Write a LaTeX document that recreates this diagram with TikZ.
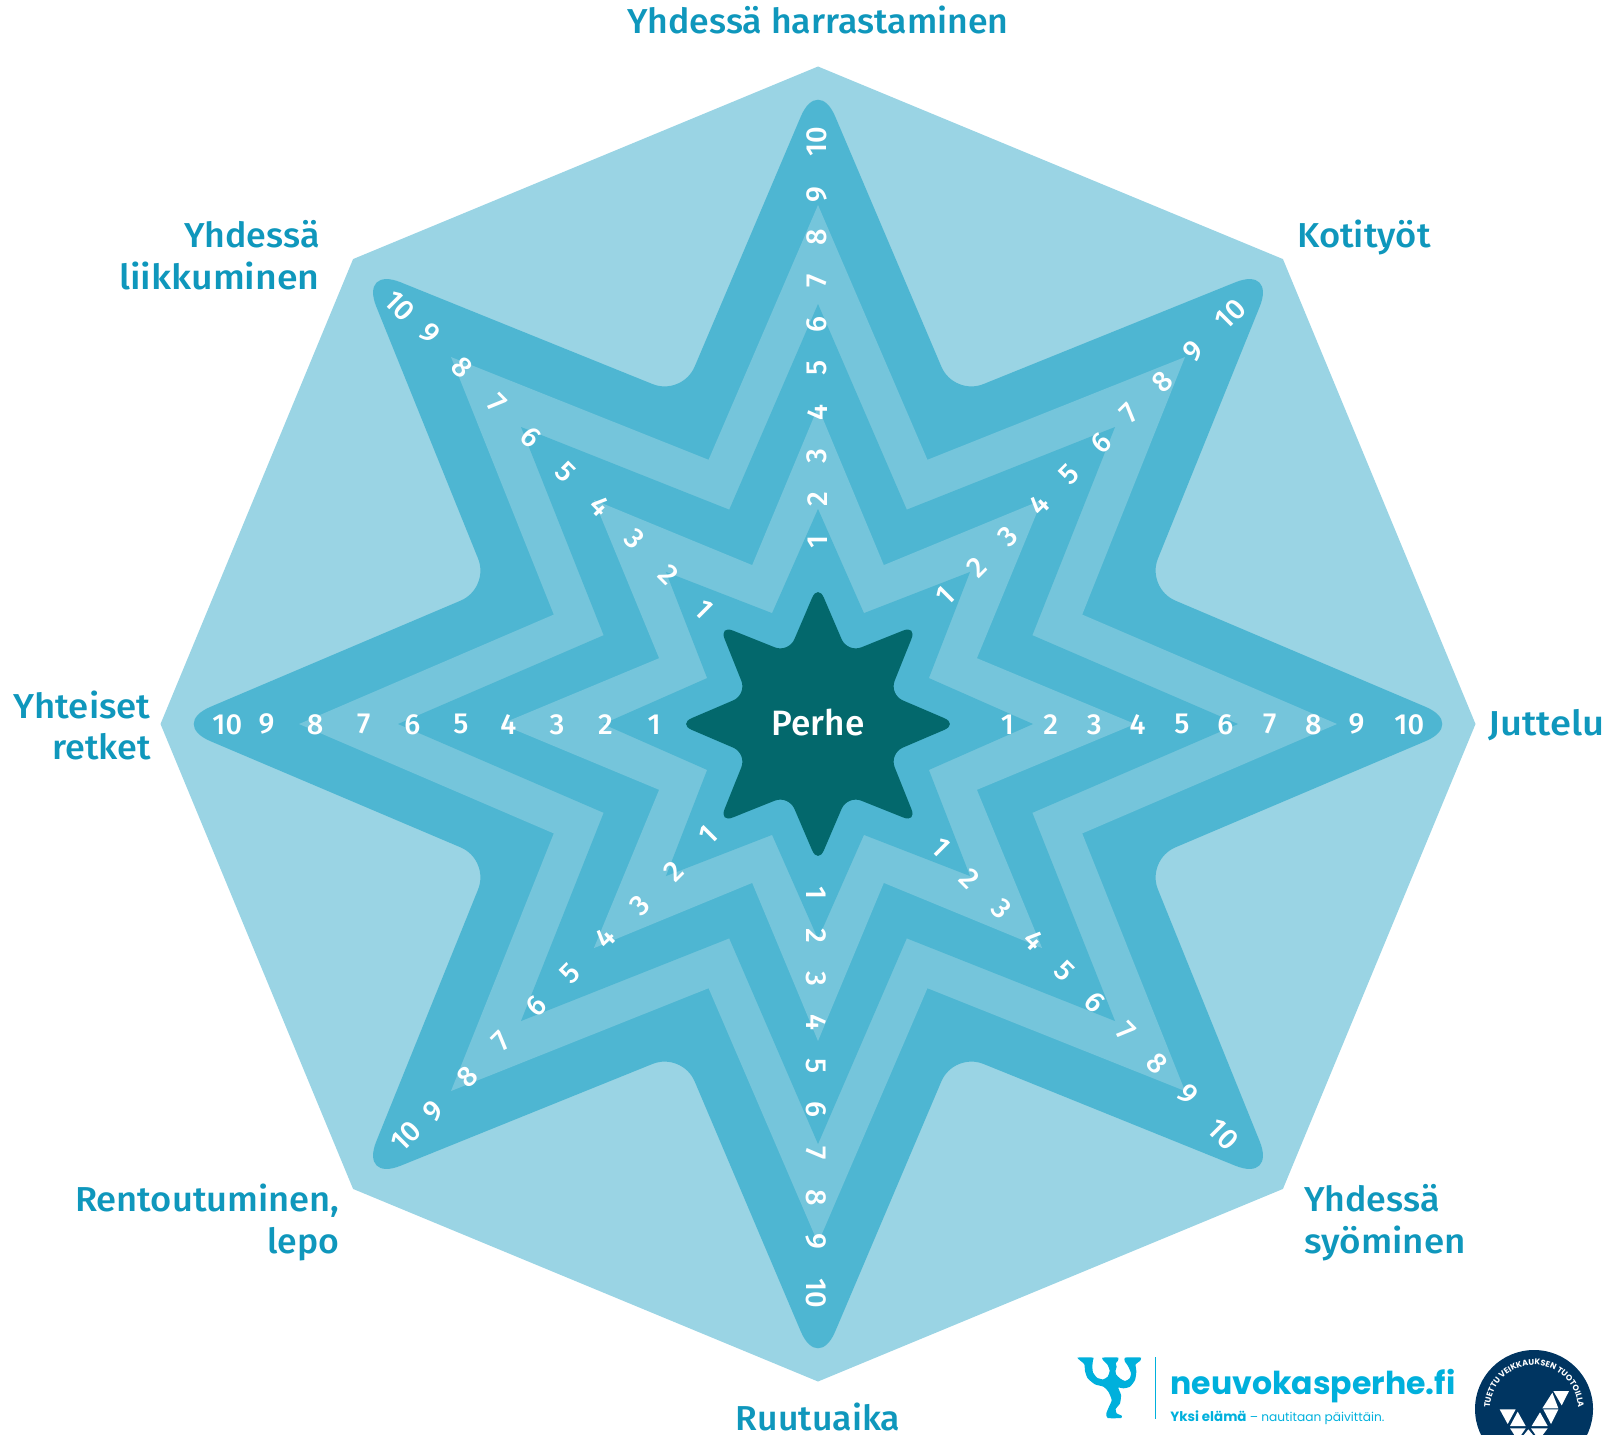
\documentclass[tikz,border=0pt]{standalone}
\usepackage{fontspec}
\usetikzlibrary{decorations.text}
\setmainfont{Fira Sans}
\newfontfamily\labf{Fira Sans Medium}
\newfontfamily\logof{Poppins}
\definecolor{cLight}{HTML}{9AD4E4}
\definecolor{cMid}{HTML}{4EB6D2}
\definecolor{cPale}{HTML}{75C5DB}
\definecolor{cDark}{HTML}{03686C}
\definecolor{cLab}{HTML}{0F97BC}
\definecolor{cLogo}{HTML}{00B0DC}
\definecolor{cNavy}{HTML}{003561}
\newcommand\starp[2]{(0:#1) -- (22.5:#2) -- (45:#1) -- (67.5:#2) -- (90:#1) -- (112.5:#2) -- (135:#1) -- (157.5:#2) -- (180:#1) -- (202.5:#2) -- (225:#1) -- (247.5:#2) -- (270:#1) -- (292.5:#2) -- (315:#1) -- (337.5:#2) -- cycle}
\newcommand\starq[4]{(0:#1) [rounded corners=#3] -- (22.5:#2) [rounded corners=#4] -- (45:#1) [rounded corners=#3] -- (67.5:#2) [rounded corners=#4] -- (90:#1) [rounded corners=#3] -- (112.5:#2) [rounded corners=#4] -- (135:#1) [rounded corners=#3] -- (157.5:#2) [rounded corners=#4] -- (180:#1) [rounded corners=#3] -- (202.5:#2) [rounded corners=#4] -- (225:#1) [rounded corners=#3] -- (247.5:#2) [rounded corners=#4] -- (270:#1) [rounded corners=#3] -- (292.5:#2) [rounded corners=#4] -- (315:#1) [rounded corners=#3] -- (337.5:#2) [rounded corners=#4] -- cycle}
\newcommand\sw[2]{\scalebox{#1}[1]{#2}}
\tikzset{
  numb/.style={text=white,inner sep=0pt,font=\labf\fontsize{14.5}{16}\selectfont},
  lablR/.style={text=cLab,anchor=base east,inner sep=0pt,font=\labf\fontsize{17.3}{19}\selectfont},
  lablL/.style={text=cLab,anchor=base west,inner sep=0pt,font=\labf\fontsize{17.3}{19}\selectfont},
  lablC/.style={text=cLab,anchor=base,inner sep=0pt,font=\labf\fontsize{17.3}{19}\selectfont},
  tri/.style={fill=white}
}
\begin{document}
\begin{tikzpicture}[x=0.5pt,y=-0.5pt]
\useasboundingbox (0,0) rectangle (1620,1434);
\clip (0,0) rectangle (1620,1434);
\begin{scope}[shift={(818,724)}]
  \fill[cLight] (0:657.5) -- (45:657.5) -- (90:657.5) -- (135:657.5) -- (180:657.5) -- (225:657.5) -- (270:657.5) -- (315:657.5) -- cycle;
  \fill[cMid] \starq{648}{355}{16pt}{22pt};
  \fill[cPale] \starp{519}{286};
  \fill[cMid] \starp{420}{232};
  \fill[cPale] \starp{317}{172};
  \fill[cMid] \starp{215}{120};
  \fill[cDark,rounded corners=7.5pt] \starp{140}{77};
\end{scope}
\node[text=white,inner sep=0pt,font=\labf\fontsize{17.6}{19}\selectfont] (perhe) at (818,723) {Perhe};
\begin{scope}[scale=1.0332]
  \foreach \t/\x in {1/975,2/1017,3/1059,4/1101,5/1144,6/1186,7/1229,8/1271,9/1313,10/1364}
    \node[numb] (e\t) at (\x,701) {\t};
  \foreach \t/\x in {1/633,2/586,3/539,4/492,5/446,6/399,7/352,8/305,9/258,10/220}
    \node[numb] (w\t) at (\x,701) {\t};
  \foreach \t/\y in {1/525,2/483,3/441,4/399,5/356,6/314,7/272,8/230,9/188,10/137}
    \node[numb,rotate=90] (n\t) at (791,\y) {\t};
  \foreach \t/\y in {1/864,2/906,3/947,4/990,5/1032,6/1074,7/1116,8/1159,9/1201,10/1252}
    \node[numb,rotate=-90] (s\t) at (790,\y) {\t};
  \foreach \t/\x/\y in {1/915/577,2/945/549,3/975/519,4/1006/489,5/1035/459,6/1066/429,7/1093/400,8/1125/370,9/1155/340,10/1191/304}
    \node[numb,rotate=45] (ne\t) at (\x,\y) {\t};
  \foreach \t/\x/\y in {1/911/820,2/939/850,3/969/880,4/1001/910,5/1030/940,6/1060/970,7/1090/998,8/1120/1029,9/1150/1059,10/1184/1098}
    \node[numb,rotate=-45] (se\t) at (\x,\y) {\t};
  \foreach \t/\x/\y in {1/685/808,2/652/843,3/619/876,4/586/908,5/552/942,6/519/974,7/485/1008,8/452/1042,9/419/1075,10/393/1100}
    \node[numb,rotate=45] (sw\t) at (\x,\y) {\t};
  \foreach \t/\x/\y in {1/681/590,2/647/556,3/614/522,4/581/490,5/547/457,6/514/423,7/481/390,8/447/356,9/416/323,10/387/296}
    \node[numb,rotate=-45] (nw\t) at (\x,\y) {\t};
\end{scope}
\node[lablC] (la) at (818,34) {\sw{1.032}{Yhdessä harrastaminen}};
\node[lablL] (lb) at (1297,247) {\sw{1.05}{Kotityöt}};
\node[lablR] (lc1) at (320,247) {\sw{1.035}{Yhdessä}};
\node[lablR] (lc2) at (320,289) {\sw{1.084}{liikkuminen}};
\node[lablL] (ld) at (1488,735) {\sw{1.103}{Juttelu}};
\node[lablR] (le1) at (151,718) {\sw{1.058}{Yhteiset}};
\node[lablR] (le2) at (151,759) {\sw{1.04}{retket}};
\node[lablL] (lf1) at (1304,1211) {\sw{1.035}{Yhdessä}};
\node[lablL] (lf2) at (1304,1253) {\sw{1.064}{syöminen}};
\node[lablR] (lg1) at (340,1211) {\sw{1.05}{Rentoutuminen,}};
\node[lablR] (lg2) at (340,1253) {\sw{1.03}{lepo}};
\node[lablC] (lh) at (818,1430) {\sw{1.03}{Ruutuaika}};
% logo figure
\begin{scope}[shift={(1065,1345)},scale=0.33333]
  \fill[cLogo] plot[smooth cycle,tension=0.35] coordinates {(37,38) (60,37) (85,38) (84,46) (82,62) (84,82) (96,98) (114,103) (128,95) (134,78) (128,60) (114,45) (112,38) (136,37) (160,38) (158,48) (152,55) (155,65) (152,75) (153,88) (165,100) (180,108) (194,100) (198,85) (190,65) (179,48) (180,38) (204,37) (228,38) (225,48) (212,58) (214,80) (210,105) (195,125) (175,130) (160,128) (168,150) (165,175) (152,192) (155,205) (170,212) (168,219) (128,219) (124,205) (132,185) (140,165) (130,140) (115,125) (90,118) (68,100) (60,78) (58,58) (45,46)};
  \fill[cLogo] (269,35) rectangle (273,221);
\end{scope}
\node[anchor=base west,inner sep=0pt,text=cLogo,font=\logof\bfseries] (logoa) at (1170,1394) {\resizebox{142.5pt}{!}{neuvokasperhe.fi}};
\node[anchor=base west,inner sep=0pt,text=cLogo,font=\logof\fontsize{6.1}{7}\selectfont] (logob) at (1170,1421) {{\fontsize{6.7}{7}\selectfont\textbf{Yksi elämä}} – nautitaan päivittäin.};
% badge
\fill[cNavy] (1534,1409) circle (29.5pt);
\begin{scope}[shift={(1534,1409)},y=0.5pt]
  \path[decorate,decoration={text along path,text align=center,text color=white,text={|\logof\bfseries\fontsize{4.1}{5}\selectfont|TUETTU VEIKKAUKSEN TUOTOILLA}}] (180:22pt) arc (180:0:22pt);
\end{scope}
\begin{scope}[shift={(1465,1340)},scale=0.33333]
  \fill[tri] (232,205) -- (262,158) -- (280,205) -- cycle;
  \fill[tri] (265,153) -- (312,153) -- (290,196) -- cycle;
  \fill[tri] (235,208) -- (280,208) -- (258,252) -- cycle;
  \fill[tri] (200,258) -- (225,217) -- (248,258) -- cycle;
  \fill[tri] (104,208) -- (152,208) -- (128,252) -- cycle;
  \fill[tri] (135,258) -- (158,215) -- (182,258) -- cycle;
  \fill[tri] (135,265) -- (182,265) -- (158,300) -- cycle;
  \fill[tri] (198,265) -- (248,265) -- (222,300) -- cycle;
  \fill[tri] (172,290) -- (190,268) -- (208,290) -- cycle;
\end{scope}
\end{tikzpicture}
\end{document}
